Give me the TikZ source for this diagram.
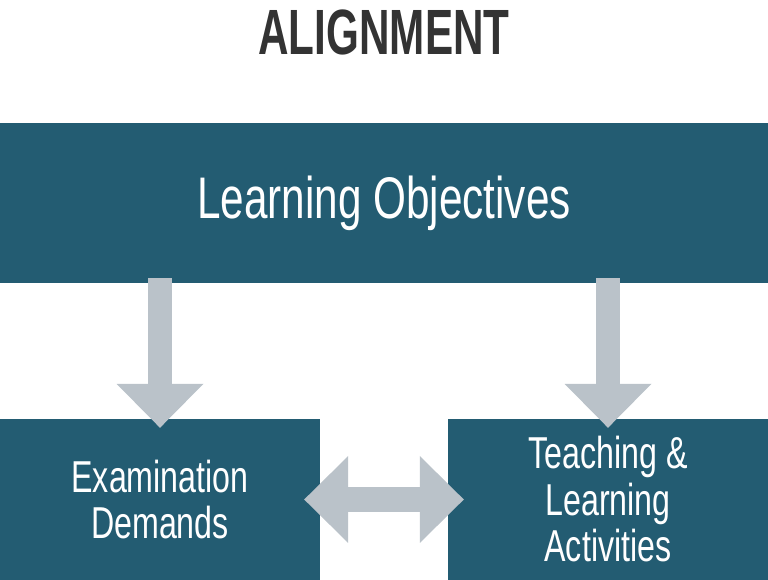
\documentclass[tikz,border=0pt]{standalone}
\usepackage{fontspec}
\usetikzlibrary{arrows.meta}
\newfontfamily\bodyfont[FakeStretch=0.72]{Liberation Sans}
\newfontfamily\headfont[FakeStretch=0.66]{Liberation Sans}
\definecolor{boxblue}{HTML}{235C72}
\definecolor{arrowgrey}{HTML}{BAC2C9}
\definecolor{headgrey}{HTML}{333333}
\tikzset{blocktip/.tip={Triangle[width=87pt 0,length=44pt 0,line width=0pt 0]}}
\begin{document}
\begin{tikzpicture}[x=1pt,y=1pt,
  box/.style={fill=boxblue,text=white,inner sep=0pt,align=center,
    font=\bodyfont\fontsize{44.7}{46.5}\selectfont},
  bigarrow/.style={arrowgrey,line width=24.5pt}]
  \useasboundingbox (0,0) rectangle (768,580);
  \node[font=\headfont\bfseries\fontsize{64}{64}\selectfont,text=headgrey,anchor=base]
    (title) at (384,525) {ALIGNMENT};
  \node[box,minimum width=768pt,minimum height=160pt,
    font=\bodyfont\fontsize{58.7}{60}\selectfont] (objectives) at (384,377) {Learning Objectives};
  \node[box,minimum width=320pt,minimum height=161pt] (exam) at (160,80.5) {Examination\\Demands};
  \node[box,minimum width=320pt,minimum height=161pt] (teaching) at (608,80.5) {Teaching \&\\Learning\\Activities};
  % arrows between the boxes
  \draw[bigarrow,-blocktip] ([yshift=5pt]objectives.south -| exam) -- ([yshift=-9pt]exam.north);
  \draw[bigarrow,-blocktip] ([yshift=5pt]objectives.south -| teaching) -- ([yshift=-9pt]teaching.north);
  \draw[bigarrow,blocktip-blocktip] ([xshift=-16pt]exam.east) -- ([xshift=16pt]teaching.west);
\end{tikzpicture}
\end{document}
